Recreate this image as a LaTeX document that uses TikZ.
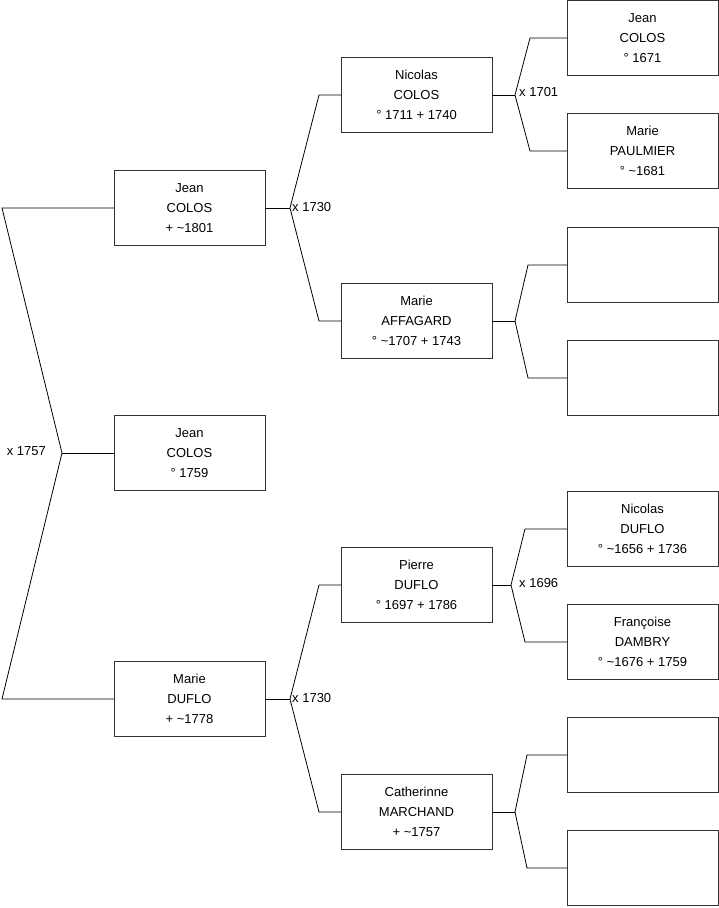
\documentclass[tikz,border=0pt]{standalone}
\usepackage{fontspec}
\setmainfont{Liberation Sans}
\tikzset{
  person/.style={draw=black!80, minimum width=151pt, minimum height=75pt,
    align=center, font=\fontsize{13}{20}\selectfont},
  link/.style={draw=black, line width=0.8pt},
  mariage/.style={font=\fontsize{13}{14}\selectfont, inner sep=1pt}
}
\begin{document}
\begin{tikzpicture}[x=1pt,y=-1pt]
  \useasboundingbox (0,0) rectangle (719,908);
  % generation 1
  \node[person] (pere)   at (189.5,208) {Jean\\COLOS\\+ \textasciitilde1801};
  \node[person] (enfant) at (189.5,453) {Jean\\COLOS\\° 1759};
  \node[person] (mere)   at (189.5,699) {Marie\\DUFLO\\+ \textasciitilde1778};
  % generation 2
  \node[person] (nicolas)  at (416.5,95)  {Nicolas\\COLOS\\° 1711 + 1740};
  \node[person] (affagard) at (416.5,321) {Marie\\AFFAGARD\\° \textasciitilde1707 + 1743};
  \node[person] (pierre)   at (416.5,585) {Pierre\\DUFLO\\° 1697 + 1786};
  \node[person] (marchand) at (416.5,812) {Catherinne\\MARCHAND\\+ \textasciitilde1757};
  % generation 3
  \node[person] (jeanc)    at (642.5,38)  {Jean\\COLOS\\° 1671};
  \node[person] (paulmier) at (642.5,151) {Marie\\PAULMIER\\° \textasciitilde1681};
  \node[person] (vide1)    at (642.5,265) {};
  \node[person] (vide2)    at (642.5,378) {};
  \node[person] (nicolasd) at (642.5,529) {Nicolas\\DUFLO\\° \textasciitilde1656 + 1736};
  \node[person] (dambry)   at (642.5,642) {Françoise\\DAMBRY\\° \textasciitilde1676 + 1759};
  \node[person] (vide3)    at (642.5,755) {};
  \node[person] (vide4)    at (642.5,868) {};
  % marriage points and corners
  \coordinate (m0) at (62,453);
  \coordinate (m0a) at (2,208);
  \coordinate (m0b) at (2,699);
  \coordinate (m1) at (290,208);
  \coordinate (m1a) at (319,95);
  \coordinate (m1b) at (319,321);
  \coordinate (m2) at (290,699);
  \coordinate (m2a) at (319,585);
  \coordinate (m2b) at (319,812);
  \coordinate (m3) at (515,95);
  \coordinate (m3a) at (530,38);
  \coordinate (m3b) at (530,151);
  \coordinate (m4) at (515,321);
  \coordinate (m4a) at (528,265);
  \coordinate (m4b) at (528,378);
  \coordinate (m5) at (511,585);
  \coordinate (m5a) at (525,529);
  \coordinate (m5b) at (525,642);
  \coordinate (m6) at (515,812);
  \coordinate (m6a) at (527,755);
  \coordinate (m6b) at (527,868);
  % connectors
  \draw[link] (pere.west) -- (m0a) -- (m0) -- (m0b) -- (mere.west);
  \draw[link] (m0) -- (enfant.west);
  \draw[link] (pere.east) -- (m1);
  \draw[link] (nicolas.west) -- (m1a) -- (m1) -- (m1b) -- (affagard.west);
  \draw[link] (mere.east) -- (m2);
  \draw[link] (pierre.west) -- (m2a) -- (m2) -- (m2b) -- (marchand.west);
  \draw[link] (nicolas.east) -- (m3);
  \draw[link] (jeanc.west) -- (m3a) -- (m3) -- (m3b) -- (paulmier.west);
  \draw[link] (affagard.east) -- (m4);
  \draw[link] (vide1.west) -- (m4a) -- (m4) -- (m4b) -- (vide2.west);
  \draw[link] (pierre.east) -- (m5);
  \draw[link] (nicolasd.west) -- (m5a) -- (m5) -- (m5b) -- (dambry.west);
  \draw[link] (marchand.east) -- (m6);
  \draw[link] (vide3.west) -- (m6a) -- (m6) -- (m6b) -- (vide4.west);
  % marriage dates
  \node[mariage, anchor=east] (d0) at (47,451) {x 1757};
  \node[mariage, anchor=west] (d1) at (291,207) {x 1730};
  \node[mariage, anchor=west] (d2) at (291,698) {x 1730};
  \node[mariage, anchor=west] (d3) at (518,92) {x 1701};
  \node[mariage, anchor=west] (d5) at (518,583) {x 1696};
\end{tikzpicture}
\end{document}
